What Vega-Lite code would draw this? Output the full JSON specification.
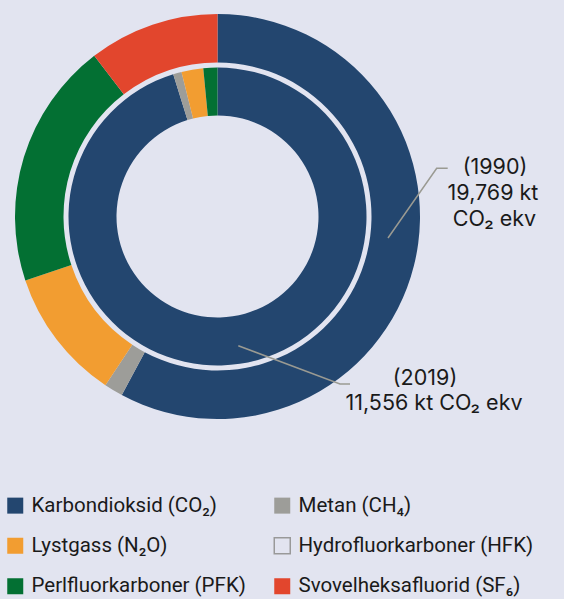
{
  "$schema": "https://vega.github.io/schema/vega-lite/v6.json",
  "autosize": "none",
  "width": 435,
  "height": 433,
  "padding": {"left": 0, "top": 0, "right": 129, "bottom": 166},
  "background": "#e2e4f0",
  "config": {"view": {"stroke": null}},
  "datasets": {
    "gases": [
      {"year": "1990", "gas": "Karbondioksid (CO₂)", "kt": 11433, "rank": 1},
      {"year": "1990", "gas": "Metan (CH₄)", "kt": 297, "rank": 2},
      {"year": "1990", "gas": "Lystgass (N₂O)", "kt": 2087, "rank": 3},
      {"year": "1990", "gas": "Perlfluorkarboner (PFK)", "kt": 3893, "rank": 5},
      {"year": "1990", "gas": "Svovelheksafluorid (SF₆)", "kt": 2059, "rank": 6},
      {"year": "2019", "gas": "Karbondioksid (CO₂)", "kt": 11001, "rank": 1},
      {"year": "2019", "gas": "Metan (CH₄)", "kt": 106, "rank": 2},
      {"year": "2019", "gas": "Lystgass (N₂O)", "kt": 273, "rank": 3},
      {"year": "2019", "gas": "Perlfluorkarboner (PFK)", "kt": 176, "rank": 5}
    ],
    "leaders": [
      {"line": "1990", "step": 1, "x": 170.5, "y": -21.5},
      {"line": "1990", "step": 2, "x": 219.2, "y": 48.2},
      {"line": "1990", "step": 3, "x": 230.2, "y": 48.2},
      {"line": "2019", "step": 1, "x": 20.8, "y": -129.2},
      {"line": "2019", "step": 2, "x": 122.5, "y": -167.5},
      {"line": "2019", "step": 3, "x": 132.5, "y": -167.5}
    ],
    "labels": [
      {"text": "(1990)", "x": 277.5, "y": 48.5},
      {"text": "19,769 kt", "x": 275.5, "y": 22.5},
      {"text": "CO₂ ekv", "x": 277, "y": -3},
      {"text": "(2019)", "x": 207.5, "y": -162.5},
      {"text": "11,556 kt CO₂ ekv", "x": 216.5, "y": -187.5}
    ]
  },
  "layer": [
    {
      "data": {"name": "gases"},
      "transform": [{"filter": "datum.year === '1990'"}],
      "mark": {"type": "arc", "innerRadius": 154, "outerRadius": 202.5},
      "encoding": {
        "theta": {"field": "kt", "type": "quantitative", "stack": true},
        "order": {"field": "rank", "type": "quantitative"},
        "color": {
          "field": "gas",
          "type": "nominal",
          "scale": {
            "domain": ["Karbondioksid (CO₂)", "Lystgass (N₂O)", "Perlfluorkarboner (PFK)", "Metan (CH₄)", "Hydrofluorkarboner (HFK)", "Svovelheksafluorid (SF₆)"],
            "range": ["#23466f", "#f29d31", "#037033", "#9d9d99", "#e2e4f0", "#e2462d"]
          },
          "legend": {
            "title": null,
            "orient": "none",
            "legendX": 5,
            "legendY": 495,
            "columns": 2,
            "symbolType": "square",
            "symbolSize": 256,
            "symbolStrokeWidth": 0,
            "labelFont": "Roboto",
            "labelFontSize": 20.5,
            "labelColor": "#1a1a1a",
            "labelOffset": 6,
            "labelLimit": 400,
            "columnPadding": 25,
            "rowPadding": 17.5,
            "encode": {
              "symbols": {
                "update": {
                  "stroke": {"signal": "datum.label === 'Hydrofluorkarboner (HFK)' ? '#999999' : 'transparent'"},
                  "strokeWidth": {"value": 1.5}
                }
              }
            }
          }
        }
      }
    },
    {
      "data": {"name": "gases"},
      "transform": [{"filter": "datum.year === '2019'"}],
      "mark": {"type": "arc", "innerRadius": 101, "outerRadius": 149},
      "encoding": {
        "theta": {"field": "kt", "type": "quantitative", "stack": true},
        "order": {"field": "rank", "type": "quantitative"},
        "color": {"field": "gas", "type": "nominal"}
      }
    },
    {
      "data": {"name": "leaders"},
      "mark": {"type": "line", "color": "#9a9a92", "strokeWidth": 1.5},
      "encoding": {
        "x": {"field": "x", "type": "quantitative", "scale": {"domain": [-217.5, 217.5], "nice": false, "zero": false}, "axis": null},
        "y": {"field": "y", "type": "quantitative", "scale": {"domain": [-216.5, 216.5], "nice": false, "zero": false}, "axis": null},
        "detail": {"field": "line"},
        "order": {"field": "step", "type": "quantitative"}
      }
    },
    {
      "data": {"name": "labels"},
      "mark": {"type": "text", "font": "Inter", "fontSize": 21.5, "color": "#1a1a1a", "align": "center", "baseline": "middle"},
      "encoding": {
        "x": {"field": "x", "type": "quantitative"},
        "y": {"field": "y", "type": "quantitative"},
        "text": {"field": "text"}
      }
    }
  ],
  "resolve": {"scale": {"theta": "independent"}}
}
